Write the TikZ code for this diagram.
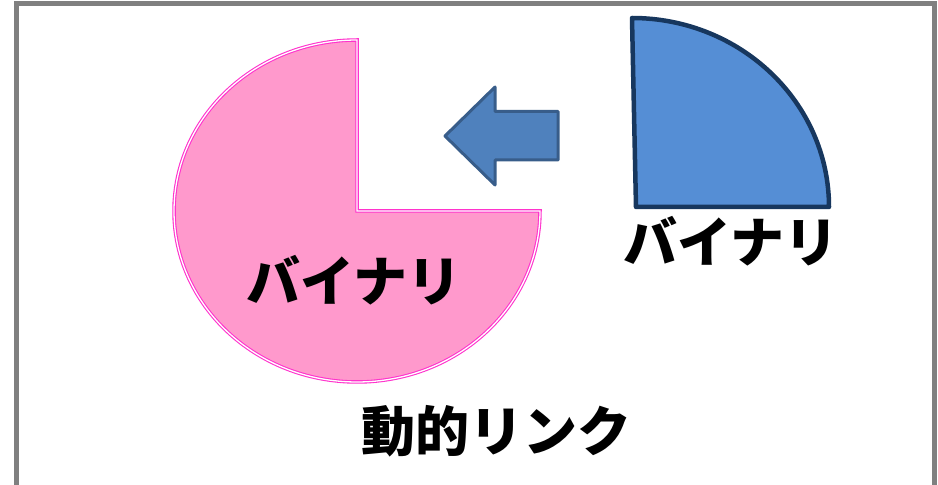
\documentclass[tikz,border=0pt]{standalone}
\usepackage{fontspec}
\newfontfamily\jp{Noto Sans CJK JP}
\definecolor{framegray}{HTML}{808080}
\definecolor{pinkfill}{HTML}{FF99CC}
\definecolor{pinkline}{HTML}{FF33CC}
\definecolor{bluefill}{HTML}{558ED5}
\definecolor{blueline}{HTML}{17375E}
\definecolor{arrowfill}{HTML}{4F81BD}
\definecolor{arrowline}{HTML}{385D8A}
\tikzset{
  label text/.style={font=\jp\bfseries\fontsize{54}{62}\selectfont, text=black, inner sep=0pt},
}
\begin{document}
\begin{tikzpicture}[x=1pt,y=1pt]
\useasboundingbox (0,0) rectangle (938,485);
% frame
\draw[framegray, line width=5pt] (16,-20) -- (16,481) -- (934,481) -- (934,-20);
% pink pie (three quarters)
\path[fill=pinkfill, draw=pinkline, line width=1.1pt, double=white, double distance=1.3pt, line join=miter]
  (357,274) -- (357,445) arc[start angle=90, end angle=360, x radius=183, y radius=171] -- cycle;
% blue quarter
\path[fill=bluefill, draw=blueline, line width=4.5pt, line join=round]
  (636,278) -- (632,467) arc[start angle=90, end angle=0, x radius=197, y radius=189] -- cycle;
% block arrow
\path[fill=arrowfill, draw=arrowline, line width=3pt, line join=round]
  (445,349) -- (495,398) -- (495,373.5) -- (558,373.5) -- (558,325) -- (495,325) -- (495,300) -- cycle;
% texts
\node[label text] (binA) at (354,205) {バイナリ};
\node[label text] (binB) at (731,244) {バイナリ};
\node[label text] (dyn) at (496,54) {動的リンク};
\end{tikzpicture}
\end{document}
